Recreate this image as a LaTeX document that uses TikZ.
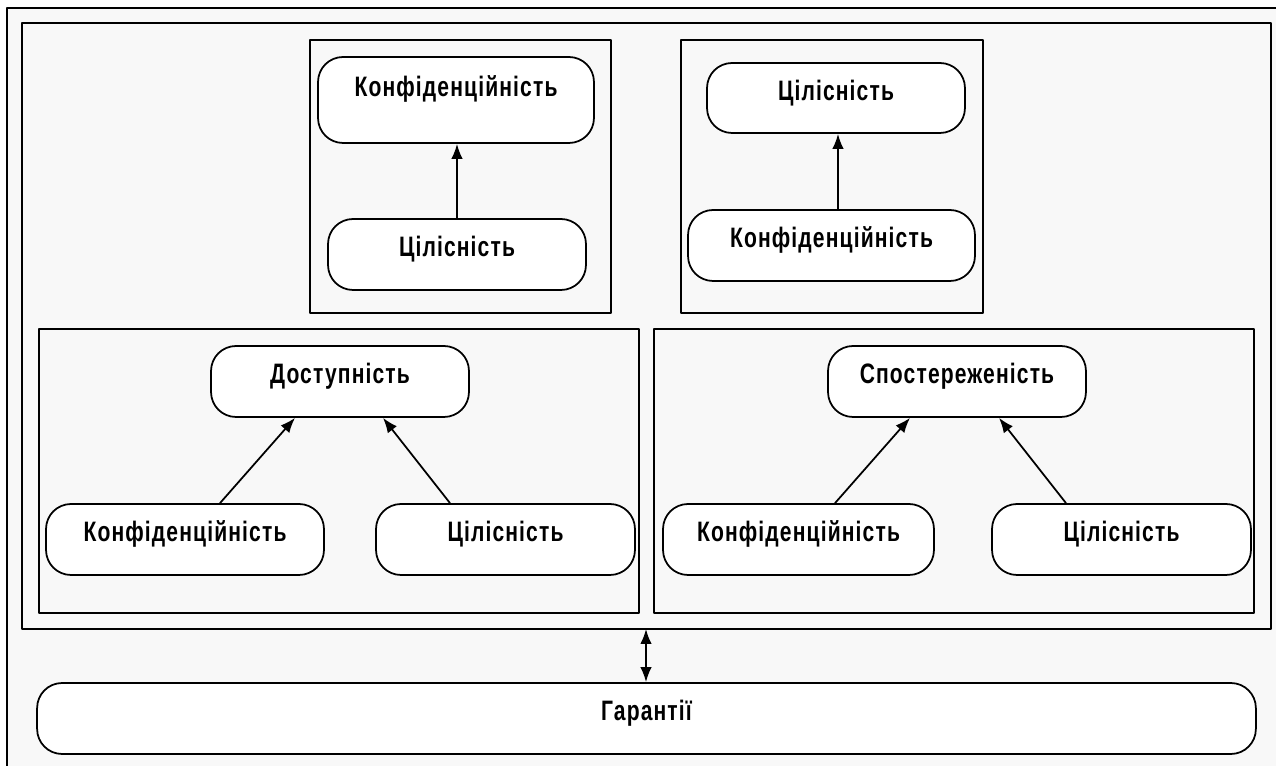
\documentclass[tikz,border=0pt]{standalone}
\usepackage{fontspec}
\newfontfamily\boxfont{Liberation Sans}[FakeStretch=0.75,LetterSpace=4]
\usetikzlibrary{arrows.meta,calc}
\definecolor{bggray}{rgb}{0.973,0.973,0.973}

\tikzset{
  frame/.style={draw,line width=1.3pt,fill=bggray},
  item/.style={draw,line width=1pt,fill=white,rounded corners=0.5cm,
    minimum height=1.42cm,inner sep=0pt,text height=0.4cm,text depth=0.3cm,
    font=\boxfont\bfseries\fontsize{16}{19}\selectfont},
  link/.style={-{Latex[length=0.3cm,width=0.23cm]},line width=1pt}
}

\begin{document}
\begin{tikzpicture}[line cap=round,line join=round,x=0.02cm,y=-0.02cm]

    \clip (0,0) rectangle (1276,766);
    \fill[white] (0,0) rectangle (1276,766);

    \draw[frame] (7,8) rectangle (1290,780);
    \draw[frame] (22,23) rectangle (1271,629);

    \draw[frame] (310,40) rectangle (611,313);
    \draw[frame] (681,40) rectangle (983,313);
    \draw[frame] (39,329) rectangle (639,613);
    \draw[frame] (654,329) rectangle (1254,613);

    % top left
    \node[item,minimum width=5.52cm,minimum height=1.72cm,text depth=0.54cm] (ktl) at (456,100) {Конфіденційність};
    \node[item,minimum width=5.16cm] (ctl) at (457,254.5) {Цілісність};
    \draw[link] (ctl.north) -- (ctl.north |- ktl.south);

    % top right
    \node[item,minimum width=5.16cm,minimum height=1.40cm] (ctr) at (836,98) {Цілісність};
    \node[item,minimum width=5.74cm] (ktr) at (831.5,245.5) {Конфіденційність};
    \draw[link] ($(ktr.north)+(6.5,0)$) -- ($(ctr.south)+(2,0)$);

    % bottom left
    \node[item,minimum width=5.16cm] (dbl) at (340,381.5) {Доступність};
    \node[item,minimum width=5.56cm] (kbl) at (185,539.5) {Конфіденційність};
    \node[item,minimum width=5.18cm] (cbl) at (505.5,539.5) {Цілісність};
    \draw[link] ($(kbl.north)+(35,0)$) -- ($(dbl.south)+(-45,0)$);
    \draw[link] ($(cbl.north)+(-55.5,0)$) -- ($(dbl.south)+(43,0)$);

    % bottom right
    \node[item,minimum width=5.16cm] (sbr) at (957,381.5) {Спостереженість};
    \node[item,minimum width=5.42cm] (kbr) at (798.5,539.5) {Конфіденційність};
    \node[item,minimum width=5.18cm] (cbr) at (1121.5,539.5) {Цілісність};
    \draw[link] ($(kbr.north)+(36.5,0)$) -- ($(sbr.south)+(-47,0)$);
    \draw[link] ($(cbr.north)+(-55.5,0)$) -- ($(sbr.south)+(42,0)$);

    \coordinate (top) at (646,629);
    \node[item,minimum width=24.38cm,rounded corners=0.5cm] (gar) at (646.5,718.5) {Гарантії};
    \draw[link,{Latex[length=0.3cm,width=0.23cm]}-{Latex[length=0.3cm,width=0.23cm]}] (top) -- (top |- gar.north);
\end{tikzpicture}
\end{document}
